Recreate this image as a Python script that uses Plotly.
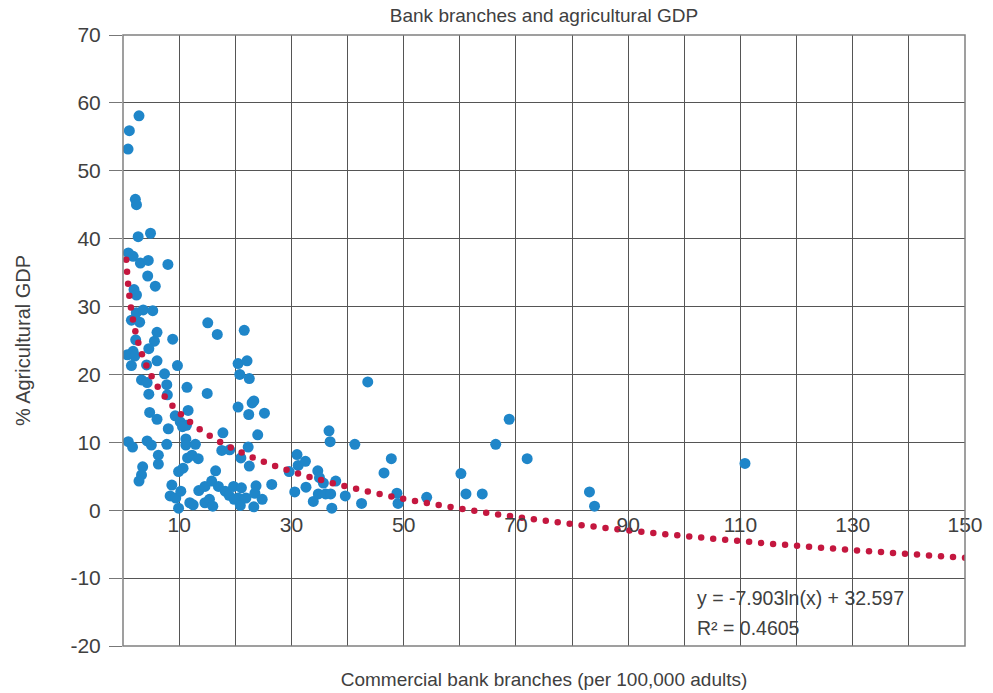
import numpy as np
import plotly.graph_objects as go

# Commercial bank branches per 100,000 adults vs agricultural share of GDP (%)
branches = [
    2.85, 1.13, 0.9, 2.2, 2.4, 4.9, 2.7, 0.95, 1.8, 3.1, 4.5, 8.0, 4.4,
    5.75, 1.96, 2.4, 2.37, 3.6, 5.3, 1.5, 2.97, 15.1, 16.8, 21.6, 6.06, 5.6,
    8.85, 2.26, 4.6, 1.8, 0.77, 2.1, 6.06, 1.5, 4.2, 9.7, 20.5, 22.1, 20.8,
    22.5, 7.4, 3.3, 4.3, 7.8, 11.4, 4.6, 7.9, 15.0, 20.5, 4.75, 11.6, 6.06,
    9.3, 10.2, 11.3, 10.6, 8.07, 17.8, 0.94, 1.7, 4.3, 5.05, 7.8, 11.2, 11.2,
    12.9, 17.6, 19.0, 21.0, 6.3, 6.3, 3.5, 11.5, 12.3, 13.4, 10.7, 9.9, 3.3,
    2.85, 16.5, 8.7, 8.4, 9.4, 10.3, 9.9, 13.5, 14.6, 15.8, 17.0, 18.2, 19.7,
    20.5, 21.1, 11.9, 12.5, 14.6, 15.4, 16.0, 18.9, 19.8, 20.9, 21.9, 22.4,
    23.3, 23.0, 25.2, 24.0, 22.3, 22.5, 31.0, 31.2, 32.5, 29.6, 32.6, 30.6,
    26.5, 23.7, 23.5, 24.8, 23.3,
    43.6, 36.7, 36.9, 41.3, 34.7, 35.0, 35.7, 37.9, 47.8, 46.5, 33.9, 34.8,
    36.1, 37.0, 39.6, 37.2, 42.5, 48.8, 49.0,
    54.1, 68.8, 66.4, 72.0, 60.2, 61.1, 64.0, 83.1, 84.0, 110.8,
]
agri_gdp = [
    58.1, 55.9, 53.2, 45.8, 45.0, 40.8, 40.3, 37.9, 37.4, 36.4, 36.8, 36.2, 34.5,
    33.0, 32.5, 31.7, 29.1, 29.5, 29.4, 28.0, 27.7, 27.6, 25.9, 26.5, 26.2, 24.9,
    25.2, 25.1, 23.8, 23.4, 22.9, 22.7, 22.0, 21.3, 21.4, 21.3, 21.6, 22.0, 20.0,
    19.4, 20.1, 19.2, 18.8, 18.5, 18.1, 17.1, 17.0, 17.2, 15.2, 14.4, 14.7, 13.4,
    13.9, 13.0, 12.5, 12.3, 12.0, 11.4, 10.1, 9.3, 10.2, 9.6, 9.7, 10.5, 9.6,
    9.7, 8.8, 8.9, 7.7, 8.1, 6.8, 6.4, 7.7, 8.1, 7.6, 6.2, 5.7, 5.2,
    4.3, 5.8, 3.7, 2.1, 1.8, 2.8, 0.3, 2.9, 3.5, 4.3, 3.5, 2.8, 3.5,
    1.8, 3.3, 1.1, 0.8, 1.1, 1.6, 0.6, 2.2, 1.6, 0.7, 1.8, 14.1,
    16.1, 15.8, 14.3, 11.1, 9.3, 6.5, 8.2, 6.6, 7.2, 5.7, 3.4, 2.7,
    3.8, 3.6, 2.5, 1.6, 0.5,
    18.9, 11.7, 10.1, 9.7, 5.8, 4.8, 4.0, 4.3, 7.6, 5.5, 1.3, 2.4,
    2.4, 2.4, 2.1, 0.3, 1.0, 2.5, 1.0,
    1.9, 13.4, 9.7, 7.6, 5.4, 2.4, 2.4, 2.7, 0.6, 6.9,
]

# Logarithmic trendline coefficients and fit statistic
trend_slope = -7.903
trend_intercept = 32.597
r_squared = 0.4605

x_tick_vals = [10, 30, 50, 70, 90, 110, 130, 150]
y_tick_vals = [-20, -10, 0, 10, 20, 30, 40, 50, 60, 70]
y_tick_text = ["-20", "-10", "0", "10", "20", "30", "40", "50", "60", "70"]

X_RANGE = [0, 150]
Y_RANGE = [-20, 70]
W, H = 993, 693
M = dict(l=123, r=28, t=35, b=47)
plot_w = W - M["l"] - M["r"]
plot_h = H - M["t"] - M["b"]

TEXT = "#404040"
GRID = "#555555"
FONT = "Liberation Sans, Arial, sans-serif"

# Trendline rendered as evenly spaced round dots along the fitted curve
sx = plot_w / (X_RANGE[1] - X_RANGE[0])
sy = plot_h / (Y_RANGE[1] - Y_RANGE[0])
xc = np.geomspace(0.58, 150, 6000)
yc = trend_slope * np.log(xc) + trend_intercept
seg = np.hypot(np.diff(xc * sx), np.diff(yc * sy))
arc = np.concatenate([[0], np.cumsum(seg)])
n_dots = int(round(arc[-1] / 12.0))
targets = np.linspace(0, arc[-1], n_dots + 1)
trend_x = np.interp(targets, arc, xc)
trend_y = trend_slope * np.log(trend_x) + trend_intercept

fig = go.Figure()
fig.add_trace(go.Scatter(
    x=branches, y=agri_gdp, mode="markers",
    marker=dict(color="#1f86c9", size=11, line=dict(width=0)),
    showlegend=False, hoverinfo="x+y",
))
fig.add_trace(go.Scatter(
    x=trend_x, y=trend_y, mode="markers", xaxis="x2",
    marker=dict(color="#c4173f", size=6.5, line=dict(width=0)),
    showlegend=False, hoverinfo="skip",
))

fig.add_annotation(
    x=101.9, y=-13.0, xref="x", yref="y", xanchor="left", yanchor="middle",
    text=f"y = {trend_slope}ln(x) + {trend_intercept}", showarrow=False,
    font=dict(family=FONT, size=19.5, color=TEXT),
)
fig.add_annotation(
    x=101.9, y=-17.4, xref="x", yref="y", xanchor="left", yanchor="middle",
    text=f"R² = {r_squared}", showarrow=False,
    font=dict(family=FONT, size=19.5, color=TEXT),
)

# Plot frame
fig.add_shape(type="rect", xref="paper", yref="paper", x0=0, y0=0, x1=1, y1=1,
              line=dict(color="#808080", width=1.5), layer="above")

fig.update_layout(
    width=W, height=H, margin=M,
    paper_bgcolor="white", plot_bgcolor="white",
    font=dict(family=FONT, color=TEXT),
    title=dict(text="Bank branches and agricultural GDP", x=0.5, xref="paper",
               y=1 - 15 / H, yref="container", xanchor="center", yanchor="middle",
               font=dict(family=FONT, size=19, color=TEXT)),
    xaxis=dict(
        range=X_RANGE, tick0=0, dtick=10, showticklabels=False, ticks="",
        showgrid=True, gridcolor=GRID, gridwidth=1, zeroline=False,
        showline=False, automargin=False,
        title=dict(text="Commercial bank branches (per 100,000 adults)",
                   font=dict(family=FONT, size=19, color=TEXT), standoff=26),
    ),
    xaxis2=dict(
        range=X_RANGE, overlaying="x", anchor="free",
        position=(0 - Y_RANGE[0]) / (Y_RANGE[1] - Y_RANGE[0]),
        tickmode="array", tickvals=x_tick_vals, ticks="",
        showgrid=False, zeroline=False, showline=False, automargin=False,
        tickfont=dict(family=FONT, size=21, color=TEXT),
    ),
    yaxis=dict(
        range=Y_RANGE, tickmode="array", tickvals=y_tick_vals, ticktext=y_tick_text,
        ticks="outside", ticklen=13, tickcolor="#777777", tickwidth=1,
        showgrid=True, gridcolor=GRID, gridwidth=1,
        zeroline=True, zerolinecolor=GRID, zerolinewidth=1.2,
        showline=False, automargin=False,
        tickfont=dict(family=FONT, size=21, color=TEXT),
        ticklabelstandoff=4,
        title=dict(text="% Agricultural GDP",
                   font=dict(family=FONT, size=20, color=TEXT), standoff=34),
    ),
)

fig.write_html("out.html")
